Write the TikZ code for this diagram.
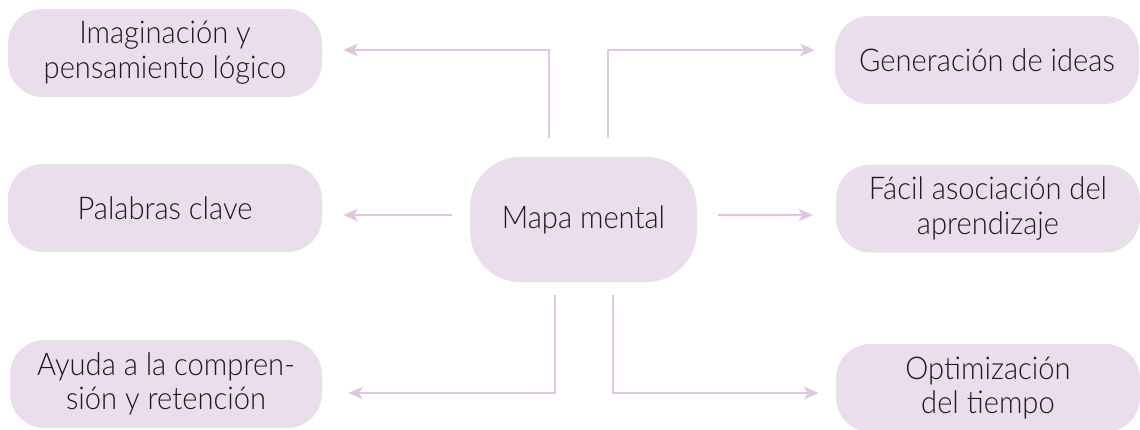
\documentclass[tikz,border=0pt]{standalone}
\usepackage{fontspec}
\setmainfont{Lato}[UprightFont=* Light, FakeStretch=0.93]
\usepackage{xcolor}
\usepackage{tikz}
\usetikzlibrary{arrows.meta,calc}
\definecolor{boxfill}{HTML}{EBDEEC}
\definecolor{linkcol}{HTML}{E0C6E0}
\definecolor{textcol}{HTML}{1A1A1A}

\tikzset{
  idea/.style={fill=boxfill, rounded corners=26pt, minimum width=235.5pt,
    minimum height=66pt, align=center, text=textcol, inner sep=0pt,
    font=\fontsize{23.5}{26}\selectfont},
  central/.style={idea, rounded corners=38pt, minimum width=170pt, minimum height=94pt},
  link/.style={draw=linkcol, line width=1.8pt,
    -{Stealth[length=11pt, width=9.5pt, inset=3pt]}}
}

\begin{document}
\begin{tikzpicture}[x=0.75pt, y=-0.75pt]
          \useasboundingbox (0,0) rectangle (1140,429);

          % Central idea
          \node[central] (mapa) at (583.5,219.5) {Mapa mental};

          % Left column
          \node[idea] (imag) at (165,53) {Imaginación y\\pensamiento lógico};
          \node[idea] (pal) at (165,208) {Palabras clave};
          \node[idea, minimum width=234pt] (ayuda) at (166,384) {Ayuda a la compren-\\sión y retención};

          % Right column
          \node[idea, minimum width=228pt] (gen) at (987,60) {Generación de ideas};
          \node[idea, minimum width=228pt] (facil) at (988,208.5) {Fácil asociación del\\aprendizaje};
          \node[idea, minimum width=228pt] (optim) at (988,388) {Optimización\\del tiempo};

          % Start points near the centre
          \coordinate (s1) at (549,138);
          \coordinate (s2) at (608,138);
          \coordinate (s3) at (452,215);
          \coordinate (s4) at (718,215);
          \coordinate (s5) at (555,295);
          \coordinate (s6) at (613,295);

          % Connectors
          \draw[link, shorten >=15.75pt] (s1) |- ([yshift=2.25pt]imag.east);
          \draw[link, shorten >=15pt] (s2) |- ([yshift=7.5pt]gen.west);
          \draw[link, shorten >=15.75pt] (s3) -- ([yshift=-5.25pt]pal.east);
          \draw[link, shorten >=17pt] (s4) -- ([yshift=-4.9pt]facil.west);
          \draw[link, shorten >=19.5pt] (s5) |- ([yshift=-6.75pt]ayuda.east);
          \draw[link, shorten >=12.75pt] (s6) |- ([yshift=-3.75pt]optim.west);
        \end{tikzpicture}
\end{document}
